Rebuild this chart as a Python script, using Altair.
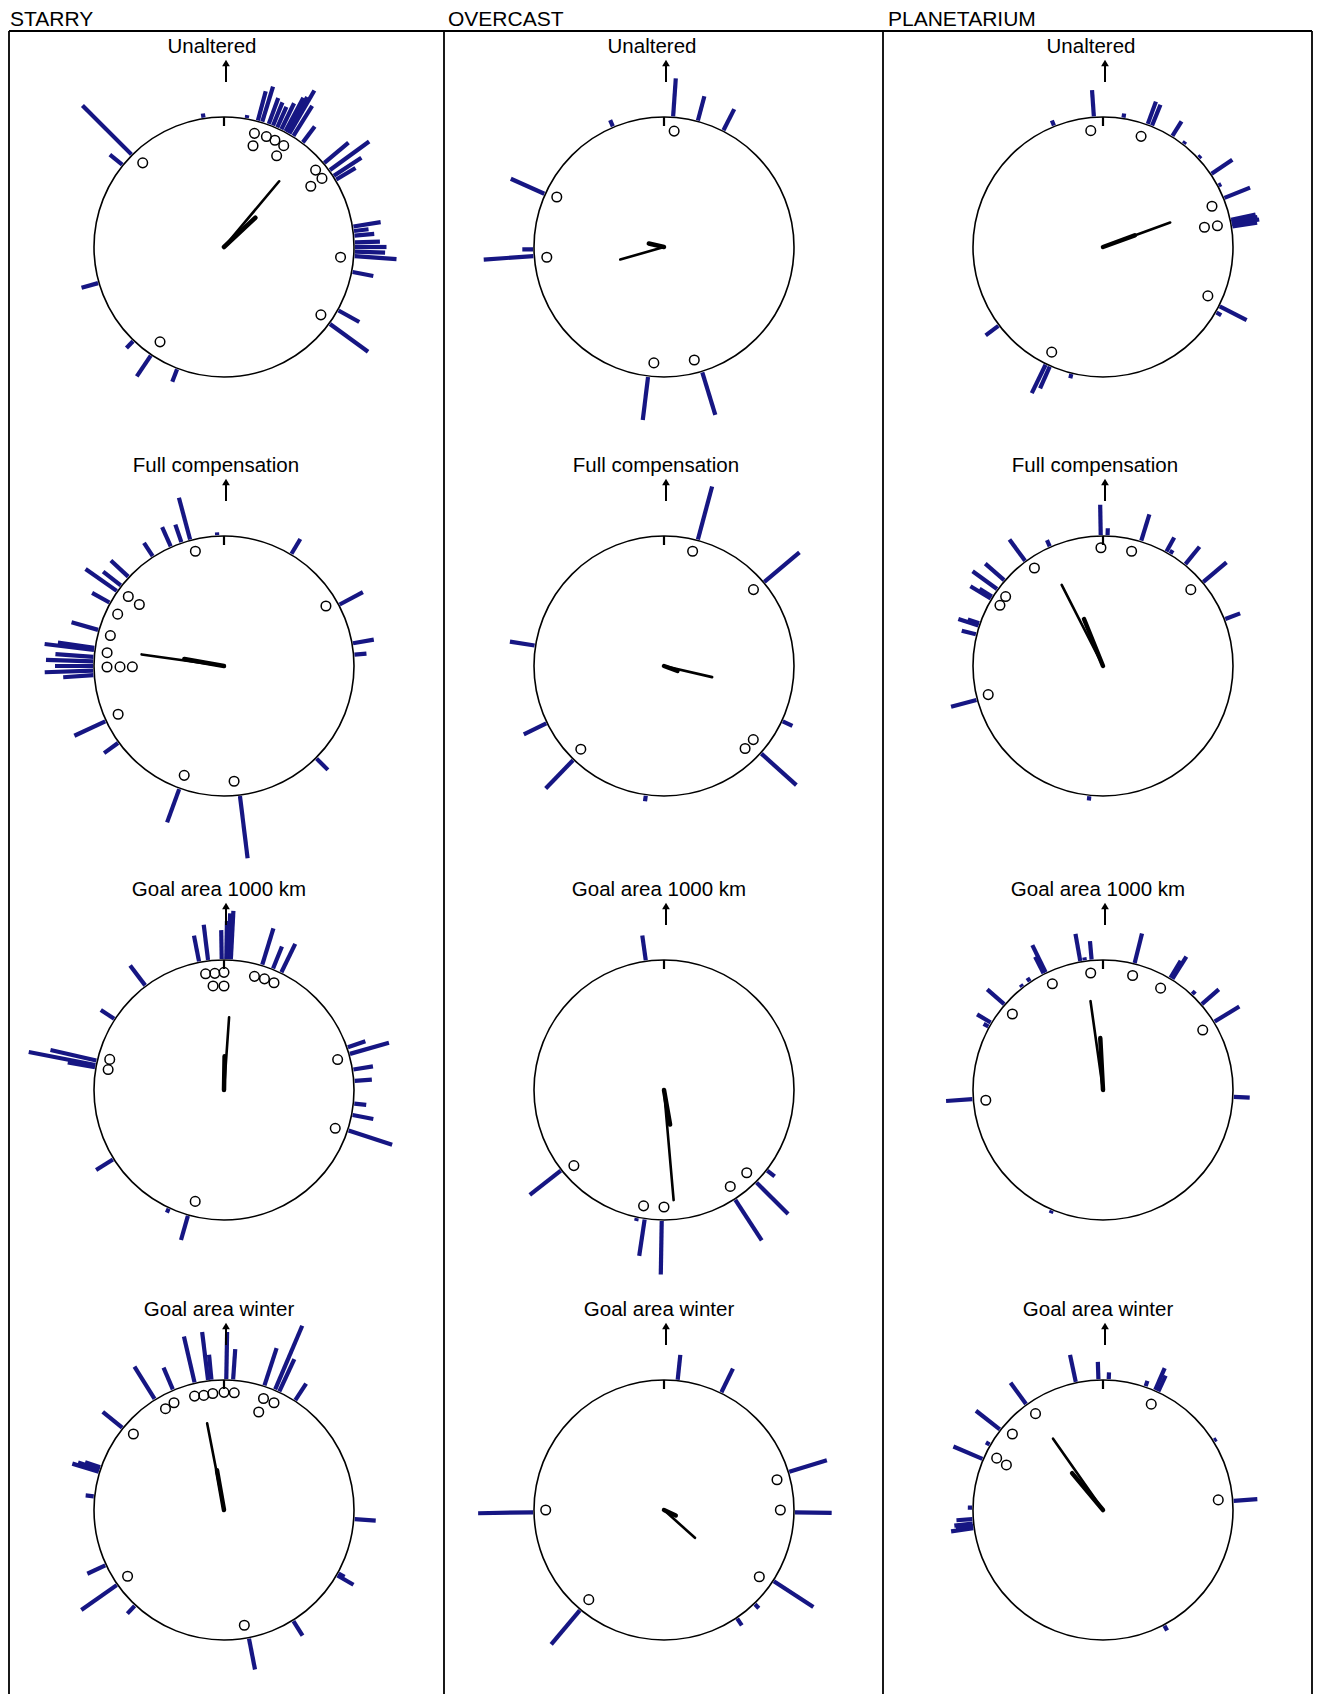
import math
import altair as alt
import pandas as pd

# ---------------- data ----------------
COLUMNS = ["STARRY", "OVERCAST", "PLANETARIUM"]
CONDITIONS = ["Unaltered", "Full compensation", "Goal area 1000 km", "Goal area winter"]

# blue bars: (direction in degrees clockwise from north, bar length as fraction of circle radius)
# open circles: (direction, radial position as fraction of radius)
# mean vectors: [(direction, length) long thin, (direction, length) short thick]

S1_BARS = [(315, 0.54), (309, 0.13), (351, 0.04), (10, 0.03), (15, 0.24), (17, 0.29), (20, 0.22),
           (22, 0.20), (24, 0.18), (26, 0.23), (28, 0.30), (29, 0.32), (30, 0.39), (32, 0.28),
           (37, 0.16), (50, 0.25), (54, 0.38), (57, 0.26), (59, 0.18), (81, 0.22), (83, 0.12),
           (85, 0.16), (88, 0.20), (90, 0.25), (92, 0.24), (94, 0.33), (101, 0.17), (119, 0.19),
           (126, 0.37), (201, 0.11), (214, 0.20), (224, 0.08), (254, 0.14)]
S1_INDS = [(316, 0.90), (15, 0.905), (21, 0.91), (25.5, 0.91), (30.5, 0.905), (16, 0.81), (30, 0.81),
           (50, 0.92), (55, 0.92), (55, 0.815), (95, 0.90), (125, 0.91), (214, 0.88)]
S1_MEAN = [(40, 0.66), (47, 0.33)]

S2_BARS = [(357, 0.03), (345, 0.34), (341, 0.15), (336, 0.17), (327, 0.13), (313, 0.19), (308, 0.18),
           (305, 0.30), (299, 0.16), (286, 0.22), (278, 0.29), (277, 0.39), (274, 0.30), (272, 0.37),
           (270, 0.30), (268, 0.38), (266, 0.24), (245, 0.27), (234, 0.14), (200, 0.28), (173, 0.49),
           (135, 0.13), (85, 0.10), (80, 0.17), (62, 0.21), (31, 0.14)]
S2_INDS = [(346, 0.91), (306, 0.91), (306, 0.805), (296, 0.91), (285, 0.905), (276.5, 0.905),
           (269.5, 0.90), (269.5, 0.80), (269.5, 0.705), (245.5, 0.895), (200, 0.895), (175, 0.89),
           (59.5, 0.91)]
S2_MEAN = [(278, 0.64), (280, 0.31)]

S3_BARS = [(359, 0.23), (1, 0.30), (2, 0.36), (3, 0.38), (353, 0.28), (349, 0.21), (17, 0.30),
           (22, 0.19), (26, 0.25), (323, 0.20), (303, 0.13), (281, 0.53), (283, 0.37), (280, 0.22),
           (74, 0.32), (71, 0.15), (81, 0.16), (86, 0.14), (96, 0.10), (101, 0.17), (108, 0.36),
           (238, 0.16), (196, 0.20), (205, 0.04)]
S3_INDS = [(351, 0.905), (355.5, 0.90), (0, 0.905), (354, 0.805), (0, 0.80), (15, 0.905), (20, 0.91),
           (25, 0.91), (285, 0.91), (280, 0.905), (75, 0.905), (109, 0.905), (194.5, 0.885)]
S3_MEAN = [(4, 0.56), (1, 0.26)]

S4_BARS = [(347, 0.37), (353, 0.38), (354.5, 0.20), (1, 0.37), (4, 0.24), (18, 0.31), (23, 0.54),
           (25, 0.28), (33, 0.16), (337, 0.19), (328, 0.30), (309, 0.20), (287, 0.22), (288, 0.18),
           (289, 0.13), (276, 0.07), (245, 0.16), (235, 0.34), (223, 0.09), (169, 0.25), (148, 0.14),
           (120, 0.15), (119, 0.06), (94, 0.17)]
S4_INDS = [(345.5, 0.905), (350, 0.895), (354.5, 0.90), (0, 0.905), (5, 0.905), (330, 0.90),
           (335, 0.91), (19.5, 0.91), (25, 0.91), (19.5, 0.80), (310, 0.91), (235.5, 0.90), (170, 0.90)]
S4_MEAN = [(349, 0.68), (350, 0.31)]

O1_BARS = [(4, 0.30), (15, 0.20), (27, 0.19), (337, 0.06), (294, 0.29), (266, 0.39), (269, 0.09),
           (187, 0.34), (163, 0.35)]
O1_INDS = [(5, 0.895), (295, 0.91), (265, 0.905), (185, 0.895), (165, 0.90)]
O1_MEAN = [(254, 0.35), (283, 0.12)]

O2_BARS = [(15, 0.43), (50, 0.36), (279, 0.20), (244, 0.20), (224, 0.31), (188, 0.05), (115, 0.09),
           (132, 0.37)]
O2_INDS = [(14, 0.91), (49.5, 0.905), (225, 0.905), (135.5, 0.89), (129.5, 0.89)]
O2_MEAN = [(103, 0.38), (110, 0.11)]

O3_BARS = [(352, 0.20), (232, 0.31), (192, 0.03), (188.5, 0.29), (181, 0.42), (147, 0.38),
           (135, 0.35), (128, 0.08)]
O3_INDS = [(230, 0.905), (190, 0.905), (180, 0.90), (145.5, 0.90), (135, 0.90)]
O3_MEAN = [(175, 0.85), (170, 0.27)]

O4_BARS = [(6, 0.20), (26, 0.21), (73, 0.31), (91, 0.29), (123, 0.37), (136, 0.05), (146, 0.07),
           (220, 0.35), (269, 0.43)]
O4_INDS = [(75, 0.90), (90, 0.895), (125, 0.895), (220, 0.90), (270, 0.91)]
O4_MEAN = [(132, 0.32), (115, 0.10)]

P1_BARS = [(356, 0.21), (338, 0.05), (9, 0.04), (20, 0.19), (22, 0.18), (32, 0.14), (38, 0.03),
           (47, 0.03), (56, 0.20), (62, 0.03), (68, 0.22), (78, 0.20), (79, 0.21), (80, 0.22),
           (81, 0.20), (117, 0.24), (120, 0.05), (233, 0.13), (206, 0.25), (204, 0.19), (194, 0.04)]
P1_INDS = [(354, 0.90), (19, 0.90), (69.5, 0.895), (79, 0.795), (79.5, 0.895), (115, 0.89), (206, 0.90)]
P1_MEAN = [(70, 0.55), (70, 0.26)]

P2_BARS = [(359, 0.24), (2, 0.06), (17, 0.22), (29, 0.13), (31, 0.04), (39, 0.18), (50, 0.24),
           (69, 0.13), (336, 0.06), (323.5, 0.21), (311, 0.20), (306, 0.24), (301, 0.19), (302, 0.12),
           (289, 0.10), (288, 0.17), (284, 0.12), (255, 0.21), (186, 0.04)]
P2_INDS = [(359, 0.91), (14, 0.91), (325, 0.92), (305.5, 0.92), (300.5, 0.92), (49, 0.895), (256, 0.91)]
P2_MEAN = [(333, 0.70), (338, 0.39)]

P3_BARS = [(350, 0.22), (355, 0.15), (352, 0.03), (14, 0.24), (32, 0.21), (31, 0.16), (43, 0.04),
           (49, 0.18), (58.5, 0.23), (93, 0.13), (334, 0.24), (333, 0.15), (326, 0.04), (322, 0.03),
           (311, 0.18), (301, 0.13), (299, 0.05), (266, 0.21), (203, 0.03)]
P3_INDS = [(354, 0.905), (334.5, 0.905), (310, 0.91), (14.5, 0.91), (29.5, 0.90), (59, 0.895), (265, 0.905)]
P3_MEAN = [(352, 0.69), (357, 0.40)]

P4_BARS = [(348, 0.22), (358, 0.14), (2.5, 0.06), (19, 0.05), (23.5, 0.19), (25, 0.14), (324, 0.21),
           (308, 0.24), (300, 0.04), (293, 0.25), (271, 0.04), (266, 0.13), (264, 0.15), (262, 0.18),
           (263, 0.14), (58, 0.03), (86, 0.19), (152, 0.05)]
P4_INDS = [(24.5, 0.895), (325, 0.905), (310, 0.91), (296, 0.91), (295, 0.82), (85, 0.89)]
P4_MEAN = [(325, 0.67), (320, 0.37)]

BARS = [[S1_BARS, S2_BARS, S3_BARS, S4_BARS],
        [O1_BARS, O2_BARS, O3_BARS, O4_BARS],
        [P1_BARS, P2_BARS, P3_BARS, P4_BARS]]
INDS = [[S1_INDS, S2_INDS, S3_INDS, S4_INDS],
        [O1_INDS, O2_INDS, O3_INDS, O4_INDS],
        [P1_INDS, P2_INDS, P3_INDS, P4_INDS]]
MEANS = [[S1_MEAN, S2_MEAN, S3_MEAN, S4_MEAN],
         [O1_MEAN, O2_MEAN, O3_MEAN, O4_MEAN],
         [P1_MEAN, P2_MEAN, P3_MEAN, P4_MEAN]]

# ---------------- layout (page pixel coordinates) ----------------
W, H = 1305, 1686
COL_CX = [224, 664, 1103]
ROW_CY = [247, 666, 1090, 1510]
R = 130
TITLE_DX = [-12, -8, -5, -5]
HEADER_X = [10, 448, 888]
BORDER_X = [9, 444, 883, 1312]
TOP_LINE_Y = 31
BLUE = "#161683"
FONT = "Liberation Sans"


def polar(cx, cy, deg, r):
    a = math.radians(deg)
    return cx + r * math.sin(a), cy - r * math.cos(a)


bar_rows, ind_rows, mean_rows, ring_rows, title_rows, tick_rows, arrow_rows = [], [], [], [], [], [], []
for ci, col in enumerate(COLUMNS):
    for ri, cond in enumerate(CONDITIONS):
        cx, cy = COL_CX[ci], ROW_CY[ri]
        ring_rows.append({"x": cx, "y": cy})
        title_rows.append({"x": cx + TITLE_DX[ri], "y": cy - 194, "t": cond})
        tick_rows.append({"x1": cx, "y1": cy - R, "x2": cx, "y2": cy - R + 9})
        arrow_rows.append({"x1": cx + 2, "y1": cy - 165, "x2": cx + 2, "y2": cy - 181, "hx": cx + 2, "hy": cy - 184})
        for d, l in BARS[ci][ri]:
            x1, y1 = polar(cx, cy, d, R + 1)
            x2, y2 = polar(cx, cy, d, R * (1 + l))
            bar_rows.append({"x1": x1, "y1": y1, "x2": x2, "y2": y2})
        for d, rr in INDS[ci][ri]:
            x, y = polar(cx, cy, d, R * rr)
            ind_rows.append({"x": x, "y": y})
        for k, (d, l) in enumerate(MEANS[ci][ri]):
            x2, y2 = polar(cx, cy, d, R * l)
            mean_rows.append({"x1": cx, "y1": cy, "x2": x2, "y2": y2, "kind": "long" if k == 0 else "short"})

bars_df = pd.DataFrame(bar_rows)
inds_df = pd.DataFrame(ind_rows)
mean_df = pd.DataFrame(mean_rows)
ring_df = pd.DataFrame(ring_rows)
title_df = pd.DataFrame(title_rows)
tick_df = pd.DataFrame(tick_rows)
arrow_df = pd.DataFrame(arrow_rows)
header_df = pd.DataFrame({"x": HEADER_X, "y": [26, 26, 26], "t": COLUMNS})
border_df = pd.DataFrame(
    [{"x1": bx, "y1": TOP_LINE_Y, "x2": bx, "y2": 8 + H} for bx in BORDER_X]
    + [{"x1": BORDER_X[0], "y1": TOP_LINE_Y, "x2": BORDER_X[-1], "y2": TOP_LINE_Y}]
)

XS = alt.Scale(domain=[8, 8 + W], nice=False, zero=False)
YS = alt.Scale(domain=[8, 8 + H], nice=False, zero=False, reverse=True)


def X(f):
    return alt.X(f + ":Q", scale=XS, axis=None)


def Y(f):
    return alt.Y(f + ":Q", scale=YS, axis=None)


def seg(df, **mk):
    return alt.Chart(df).mark_rule(**mk).encode(x=X("x1"), y=Y("y1"), x2="x2:Q", y2="y2:Q")


borders = seg(border_df, color="black", strokeWidth=1.8)
headers = alt.Chart(header_df).mark_text(font=FONT, fontSize=21, align="left", baseline="alphabetic",
                                         color="black").encode(x=X("x"), y=Y("y"), text="t:N")
rings = alt.Chart(ring_df).mark_point(shape="circle", size=(2 * R) ** 2, filled=False, color="black",
                                      strokeWidth=1.6, opacity=1).encode(x=X("x"), y=Y("y"))
ticks = seg(tick_df, color="black", strokeWidth=2.2)
bars = seg(bars_df, color=BLUE, strokeWidth=4.2, strokeCap="butt")
inds = alt.Chart(inds_df).mark_point(shape="circle", size=92, filled=False, color="black",
                                     strokeWidth=1.5, opacity=1).encode(x=X("x"), y=Y("y"))
mean_long = seg(mean_df[mean_df["kind"] == "long"], color="black", strokeWidth=2.6, strokeCap="round")
mean_short = seg(mean_df[mean_df["kind"] == "short"], color="black", strokeWidth=4.5, strokeCap="round")
titles = alt.Chart(title_df).mark_text(font=FONT, fontSize=20.5, align="center", baseline="alphabetic",
                                       color="black").encode(x=X("x"), y=Y("y"), text="t:N")
arrow_shaft = seg(arrow_df, color="black", strokeWidth=2)
arrow_head = alt.Chart(arrow_df).mark_point(shape="triangle-up", size=60, filled=True, color="black",
                                            opacity=1).encode(x=X("hx"), y=Y("hy"))

chart = alt.layer(borders, headers, rings, ticks, bars, inds, mean_long, mean_short, titles,
                  arrow_shaft, arrow_head).properties(
    width=W, height=H, autosize=alt.AutoSizeParams(type="none"), padding=0
).configure_view(strokeWidth=0)

chart.save("out.html", embed_options={"renderer": "svg", "actions": False})
